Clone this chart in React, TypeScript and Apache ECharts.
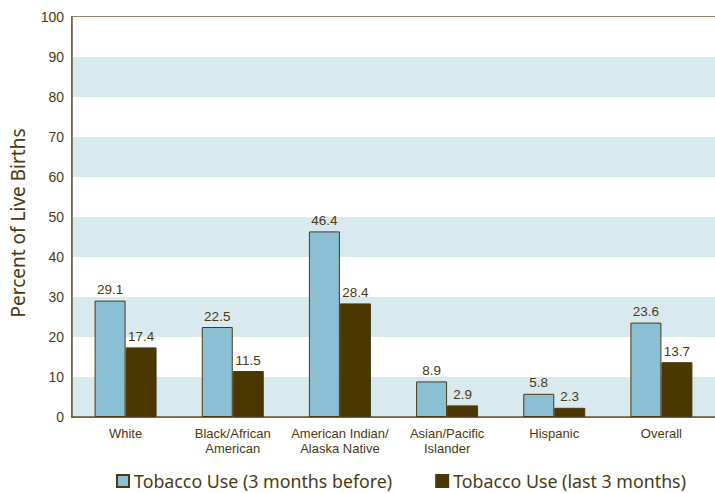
import React, { useEffect, useRef } from "react";
import * as echarts from "echarts";

const categories = ["White", "Black/African\nAmerican", "American Indian/\nAlaska Native", "Asian/Pacific\nIslander", "Hispanic", "Overall"];
const before3 = [29.1, 22.5, 46.4, 8.9, 5.8, 23.6];
const last3 = [17.4, 11.5, 28.4, 2.9, 2.3, 13.7];
const seriesNames = ["Tobacco Use (3 months before)", "Tobacco Use (last 3 months)"];

const TXT = "#4a3a12";
const AX = "#6b5a32";
const NARROW = "'Liberation Sans Narrow', 'Liberation Sans', sans-serif";

export default function App() {
  const ref = useRef<HTMLDivElement>(null);
  useEffect(() => {
    const chart = echarts.init(ref.current!, null, { renderer: "svg" });
    const lbl = { show: true, position: "top", color: TXT, fontSize: 13.5, fontFamily: NARROW, distance: 4, formatter: (p: any) => p.value.toFixed(1) };
    chart.setOption({
      animation: false,
      grid: { left: 68, right: -7, top: 17, bottom: 76, show: true, borderColor: AX, borderWidth: 1.5, backgroundColor: "transparent" },
      legend: {
        top: 471,
        left: 116,
        padding: 0,
        itemWidth: 12,
        itemHeight: 12,
        itemGap: 43,
        icon: "rect",
        textStyle: { color: TXT, fontSize: 17.8, lineHeight: 20, fontFamily: "'Noto Sans', sans-serif" },
        data: seriesNames,
      },
      xAxis: {
        type: "category",
        data: categories,
        axisLine: { lineStyle: { color: AX, width: 1.5 } },
        axisTick: { show: false },
        axisLabel: { interval: 0, color: TXT, fontSize: 13, fontFamily: NARROW, margin: 9, lineHeight: 15 },
      },
      yAxis: {
        type: "value",
        min: 0,
        max: 100,
        interval: 10,
        name: "Percent of Live Births",
        nameLocation: "middle",
        nameGap: 45,
        nameTextStyle: { color: TXT, fontSize: 19, fontFamily: "'Noto Sans', sans-serif", padding: [0, 12, 0, 0] },
        axisLine: { show: true, lineStyle: { color: AX, width: 1.5 } },
        axisTick: { show: false },
        axisLabel: { color: TXT, fontSize: 14, fontFamily: NARROW, margin: 8 },
        splitLine: { show: false },
        splitArea: { show: true, areaStyle: { color: ["#d9e9f0", "#ffffff"] } },
      },
      series: [
        {
          name: seriesNames[0],
          type: "bar",
          data: before3,
          barWidth: 31,
          barGap: "0%",
          itemStyle: { color: "#8bbfd3", borderColor: "#4a3a12", borderWidth: 1 },
          label: lbl,
        },
        {
          name: seriesNames[1],
          type: "bar",
          data: last3,
          barWidth: 31,
          barGap: "0%",
          itemStyle: { color: "#4a3800", borderColor: "#4a3a12", borderWidth: 1 },
          label: lbl,
        },
      ],
    });
    return () => chart.dispose();
  }, []);
  return <div ref={ref} style={{ width: 715, height: 493, position: "absolute", left: 0, top: 0 }} />;
}
